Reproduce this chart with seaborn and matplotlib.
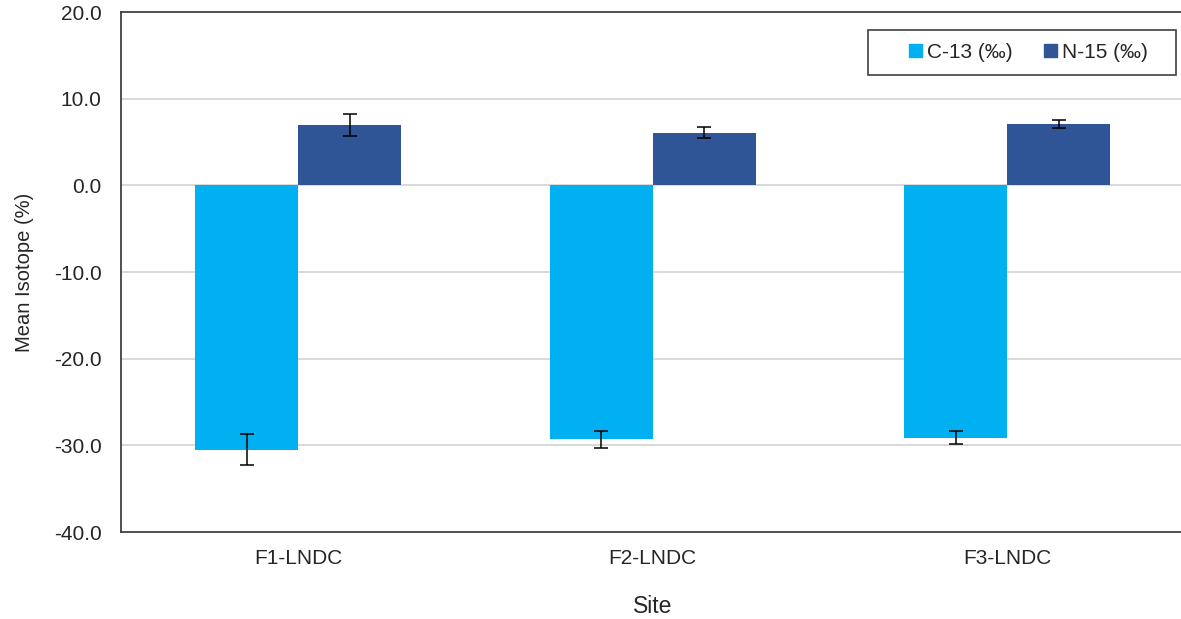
import pandas as pd
import seaborn as sns
import matplotlib.pyplot as plt
from matplotlib.patches import Rectangle

sites = ['F1-LNDC', 'F2-LNDC', 'F3-LNDC']
isotopes = ['C-13 (‰)', 'N-15 (‰)']
c13_mean = [-30.5, -29.3, -29.1]
c13_err = [1.8, 1.0, 0.75]
n15_mean = [7.0, 6.1, 7.1]
n15_err = [1.25, 0.6, 0.45]
colors = ['#00B0F0', '#2F5597']

df = pd.DataFrame({
    'site': sites * 2,
    'isotope': [isotopes[0]] * 3 + [isotopes[1]] * 3,
    'mean': c13_mean + n15_mean,
    'err': c13_err + n15_err,
})

sns.set_theme(style='white')
plt.rcParams['font.family'] = ['Liberation Sans', 'DejaVu Sans']
text_col = '#262626'

fig = plt.figure(figsize=(11.81, 6.19), dpi=100)
ax = fig.add_axes([0.1025, 0.1405, 0.9005, 0.84])

sns.barplot(data=df, x='site', y='mean', hue='isotope', hue_order=isotopes,
            palette=colors, width=0.58, saturation=1, errorbar=None,
            linewidth=0, legend=False, ax=ax, zorder=2)

# error bars at the centre of each bar
bars = [p for p in ax.patches if isinstance(p, Rectangle)][:len(df)]
for p, (_, row) in zip(bars, df.iterrows()):
    cx = p.get_x() + p.get_width() / 2
    ax.errorbar(cx, row['mean'], yerr=row['err'], fmt='none', ecolor='black',
                elinewidth=1.1, capsize=4.8, capthick=1.1, zorder=3)

ax.set_xlim(-0.5, 2.5)
ax.set_ylim(-40, 20)
ax.set_yticks(range(-40, 21, 10))
ax.set_yticklabels([f'{v:.1f}' for v in range(-40, 21, 10)], fontsize=15, color=text_col)
ax.tick_params(axis='x', labelsize=15, colors=text_col, pad=12)
ax.tick_params(axis='y', pad=14)
ax.tick_params(axis='both', length=0)
for v in range(-30, 11, 10):
    ax.axhline(v, color='#d6d6d6', linewidth=1.3, zorder=1)

for side in ['left', 'top', 'bottom']:
    ax.spines[side].set_color('#404040')
    ax.spines[side].set_linewidth(1.3)
ax.spines['right'].set_visible(False)

ax.set_xlabel('Site', fontsize=16.5, color=text_col, labelpad=20)
ax.set_ylabel('Mean Isotope (%)', fontsize=14.5, color=text_col, labelpad=14)

# legend: Excel-style box, wider than its content
handles = [Rectangle((0, 0), 1, 1, color=c) for c in colors]
leg = ax.legend(handles, isotopes, ncol=2, loc='center',
                bbox_to_anchor=(0.8533, 0.922), fontsize=15, frameon=False,
                handlelength=0.6, handleheight=0.6, handletextpad=0.25,
                columnspacing=1.5, borderpad=0, borderaxespad=0)
for t in leg.get_texts():
    t.set_color(text_col)
ax.add_patch(Rectangle((0.7024, 0.8788), 0.2896, 0.0865, transform=ax.transAxes,
                       fill=False, edgecolor='#404040', linewidth=1.2,
                       zorder=4, clip_on=False))

fig.savefig('out.png', dpi=100)
